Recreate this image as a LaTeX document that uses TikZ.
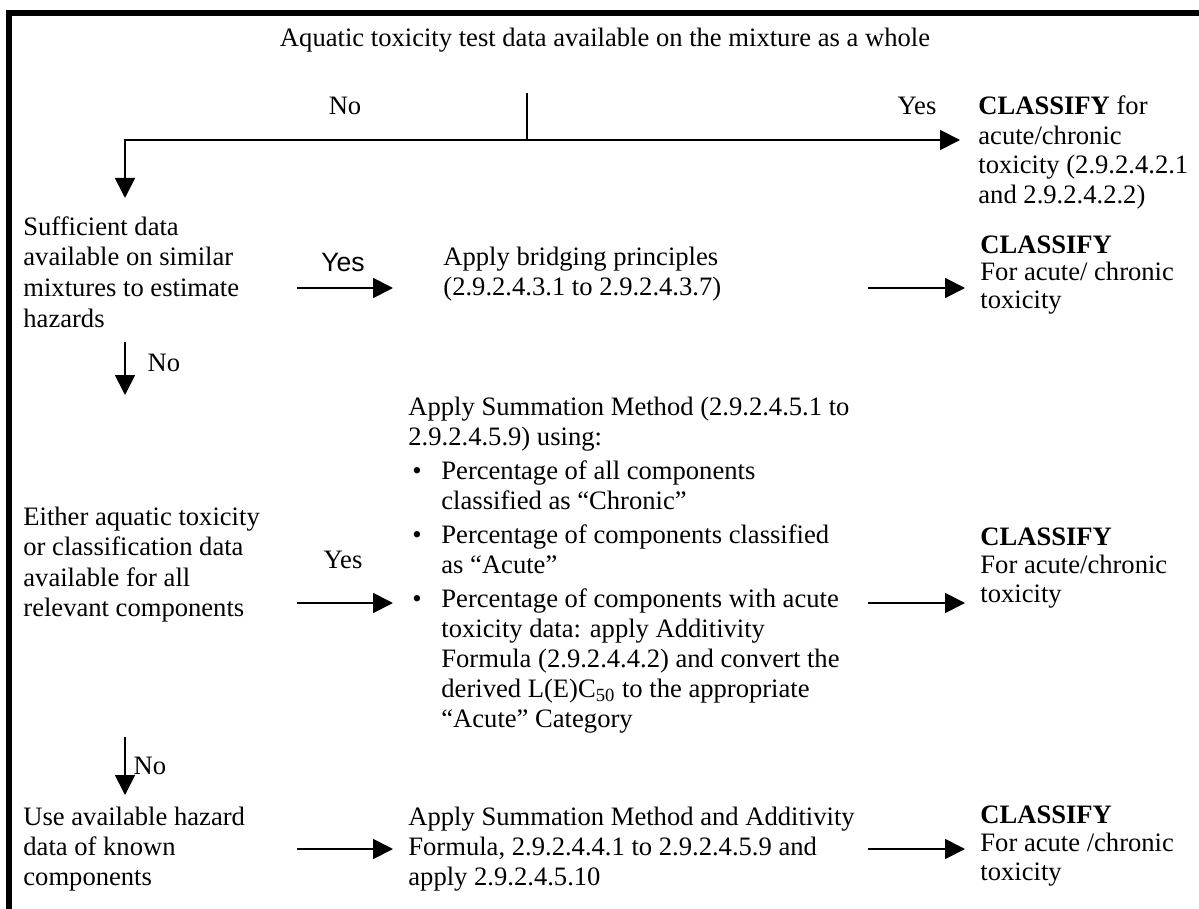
\documentclass[tikz,border=0pt]{standalone}
\usepackage{fontspec}
\setmainfont{Liberation Serif}
\newfontfamily\arialfont{Liberation Sans}
\usetikzlibrary{arrows.meta}

\newcommand\itemmark{\makebox[16.5pt][l]{\hspace{2pt}\textbullet}}
\newcommand\itemgap{\hspace*{16.5pt}}

\tikzset{
	txt/.style={anchor=base west,inner sep=0pt,align=left,font=\fontsize{13.3}{15}\selectfont},
	lbl/.style={inner sep=0pt,font=\fontsize{13.3}{15}\selectfont},
	arr/.style={line width=0.9pt,-{Triangle[length=10pt,width=10pt]}},
	plain/.style={line width=0.9pt}
}

\begin{document}
\begin{tikzpicture}[x=0.5pt,y=-0.5pt]
	\useasboundingbox (0,0) rectangle (1199,909);
	\draw [line width=2.6pt] (9,909) -- (9,13) -- (1199,13);

	\node [lbl,anchor=base] (title) at (605,47) {Aquatic toxicity test data available on the mixture as a whole};
	\node [lbl] (noTop) at (345,106) {No};
	\node [lbl] (yesTop) at (917,106) {Yes};
	\node [txt,font=\fontsize{13.3}{14.75}\selectfont] (clsWhole) at (978,203.5) {\textbf{CLASSIFY} for\\acute/chronic\\toxicity (2.9.2.4.2.1\\and 2.9.2.4.2.2)};

	\node [txt,font=\fontsize{13.3}{15.5}\selectfont] (suff) at (23,328) {Sufficient data\\available on similar\\mixtures to estimate\\hazards};
	\node [lbl,font=\arialfont\fontsize{13.3}{15}\selectfont] (yesBridge) at (343,262) {Yes};
	\node [txt] (bridge) at (443,296) {Apply bridging principles\\(2.9.2.4.3.1 to 2.9.2.4.3.7)};
	\node [txt,font=\fontsize{13.3}{13.75}\selectfont] (clsBridge) at (980,308) {\textbf{CLASSIFY}\\For acute/ chronic\\toxicity};
	\node [lbl] (noSuff) at (164,363) {No};

	\node [txt,font=\fontsize{13.3}{15.25}\selectfont] (either) at (23,616.5) {Either aquatic toxicity\\or classification data\\available for all\\relevant components};
	\node [lbl] (yesEither) at (343,560) {Yes};
	\node [txt] (summ) at (408,727) {Apply Summation Method (2.9.2.4.5.1 to\\
		2.9.2.4.5.9) using:\\[2pt]
		\itemmark Percentage of all components\\
		\itemgap classified as ``Chronic''\\[2pt]
		\itemmark Percentage of components classified\\
		\itemgap as ``Acute''\\[2pt]
		\itemmark Percentage of components with acute\\
		\itemgap toxicity data: apply Additivity\\
		\itemgap Formula (2.9.2.4.4.2) and convert the\\
		\itemgap derived L(E)C\textsubscript{50} to the appropriate\\
		\itemgap ``Acute'' Category};
	\node [txt,font=\fontsize{13.3}{14.25}\selectfont] (clsSumm) at (980,602) {\textbf{CLASSIFY}\\For acute/chronic\\toxicity};
	\node [lbl] (noEither) at (150,766) {No};

	\node [txt] (useHaz) at (23,885) {Use available hazard\\data of known\\components};
	\node [txt] (summHaz) at (408,885) {Apply Summation Method and Additivity\\Formula, 2.9.2.4.4.1 to 2.9.2.4.5.9 and\\apply 2.9.2.4.5.10};
	\node [txt,font=\fontsize{13.3}{14.25}\selectfont] (clsHaz) at (980,880) {\textbf{CLASSIFY}\\For acute /chronic\\toxicity};

	\coordinate (stem) at (527,93);
	\coordinate (split) at (527,140);
	\coordinate (suffIn) at (125,198);
	\coordinate (wholeIn) at (960,140);
	\coordinate (bridgeOut) at (297,288);
	\coordinate (bridgeIn) at (393,288);
	\coordinate (clsBridgeOut) at (868,288);
	\coordinate (clsBridgeIn) at (965,288);
	\coordinate (noSuffOut) at (125,342);
	\coordinate (noSuffIn) at (125,395);
	\coordinate (summOut) at (297,603);
	\coordinate (summIn) at (393,603);
	\coordinate (clsSummOut) at (868,603);
	\coordinate (clsSummIn) at (965,603);
	\coordinate (noEitherOut) at (125,737);
	\coordinate (noEitherIn) at (125,795);
	\coordinate (hazOut) at (297,849);
	\coordinate (hazIn) at (393,849);
	\coordinate (clsHazOut) at (868,849);
	\coordinate (clsHazIn) at (965,849);

	\draw [plain] (stem) -- (split);
	\draw [arr] (split) -| (suffIn);
	\draw [arr] (split) -- (wholeIn);
	\draw [arr] (bridgeOut) -- (bridgeIn);
	\draw [arr] (clsBridgeOut) -- (clsBridgeIn);
	\draw [arr] (noSuffOut) -- (noSuffIn);
	\draw [arr] (summOut) -- (summIn);
	\draw [arr] (clsSummOut) -- (clsSummIn);
	\draw [arr] (noEitherOut) -- (noEitherIn);
	\draw [arr] (hazOut) -- (hazIn);
	\draw [arr] (clsHazOut) -- (clsHazIn);
\end{tikzpicture}
\end{document}
